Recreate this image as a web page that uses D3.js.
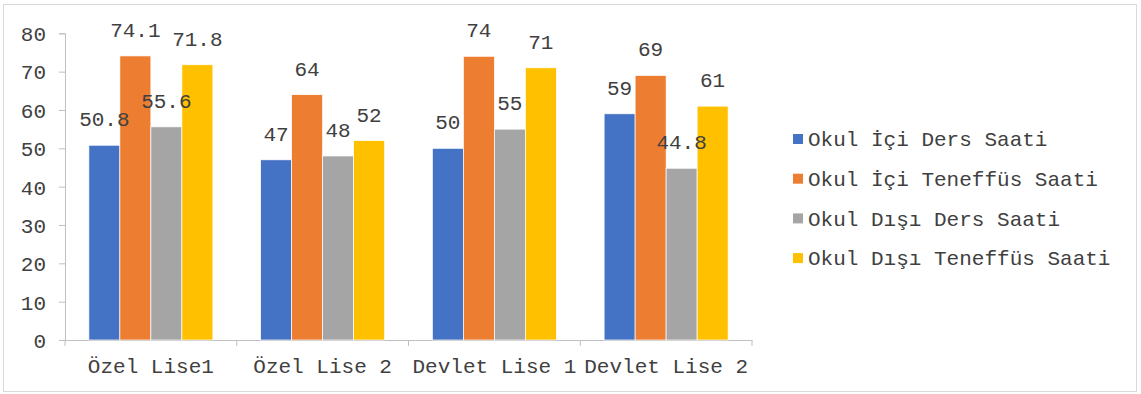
<!DOCTYPE html>
<html lang="tr">
<head>
<meta charset="utf-8">
<title>Okul saatleri</title>
<script src="https://cdn.jsdelivr.net/npm/d3@7"></script>
<style>
  body { margin: 0; background: #fff; }
  text { font-family: "Liberation Mono", "Courier New", monospace; fill: #404040; }
</style>
</head>
<body>
<script>
// data
var categories = ["Özel Lise1", "Özel Lise 2", "Devlet Lise 1", "Devlet Lise 2"];
var seriesNames = ["Okul İçi Ders Saati", "Okul İçi Teneffüs Saati", "Okul Dışı Ders Saati", "Okul Dışı Teneffüs Saati"];
var icDers = [50.8, 47, 50, 59];
var icTeneffus = [74.1, 64, 74, 69];
var disDers = [55.6, 48, 55, 44.8];
var disTeneffus = [71.8, 52, 71, 61];
var yTicks = [0, 10, 20, 30, 40, 50, 60, 70, 80];
var colors = ["#4472c4", "#ed7d31", "#a5a5a5", "#ffc000"];

var series = [icDers, icTeneffus, disDers, disTeneffus];

var w = 1141, h = 394;
var plotLeft = 65, plotRight = 752, plotTop = 33.3, plotBottom = 340;

var svg = d3.select("body").append("svg")
    .attr("width", w)
    .attr("height", h);

// outer border
svg.append("rect")
    .attr("x", 3.5).attr("y", 4.5)
    .attr("width", 1133).attr("height", 387)
    .attr("fill", "none")
    .attr("stroke", "#d9d9d9");

var x0 = d3.scaleBand().domain(categories).range([plotLeft, plotRight]).paddingInner(0).paddingOuter(0);
var x1 = d3.scaleBand().domain(d3.range(series.length))
    .range([0, x0.bandwidth()]).paddingOuter(0.77).paddingInner(0);
var y = d3.scaleLinear().domain([0, 80]).range([plotBottom, plotTop]);

// y axis
var yAxis = svg.append("g")
    .attr("transform", "translate(" + plotLeft + ",0)")
    .call(d3.axisLeft(y).tickValues(yTicks).tickSize(6).tickPadding(13));
yAxis.selectAll("text").style("font-size", "21px").attr("dy", "0.35em");

// x axis
var xAxis = svg.append("g")
    .attr("transform", "translate(0," + plotBottom + ")")
    .call(d3.axisBottom(x0).tickSize(0).tickPadding(20));
xAxis.selectAll("text").style("font-size", "21px").attr("dy", "0.6em");
// category boundary ticks
var bounds = categories.map(function(c) { return x0(c); }).concat([plotRight]);
xAxis.selectAll(".bound").data(bounds).enter().append("line")
    .attr("class", "bound")
    .attr("x1", function(d) { return d; }).attr("x2", function(d) { return d; })
    .attr("y1", 0).attr("y2", 6)
    .attr("stroke", "#bfbfbf");

svg.selectAll(".domain").attr("stroke", "#bfbfbf");
svg.selectAll(".tick line").attr("stroke", "#bfbfbf");

// bars
var groups = svg.selectAll("g.grp")
    .data(categories).enter().append("g")
    .attr("class", "grp")
    .attr("transform", function(d) { return "translate(" + x0(d) + ",0)"; });

groups.each(function(cat, ci) {
    var g = d3.select(this);
    var vals = series.map(function(s) { return s[ci]; });
    g.selectAll("rect").data(vals).enter().append("rect")
        .attr("x", function(d, i) { return x1(i); })
        .attr("y", function(d) { return y(d); })
        .attr("width", x1.bandwidth())
        .attr("height", function(d) { return plotBottom - y(d); })
        .attr("fill", function(d, i) { return colors[i]; })
        .attr("stroke", "#ffffff")
        .attr("stroke-width", 0.7);
    g.selectAll("text.val").data(vals).enter().append("text")
        .attr("class", "val")
        .attr("x", function(d, i) { return x1(i) + x1.bandwidth() / 2; })
        .attr("y", function(d) { return y(d) - 19; })
        .attr("text-anchor", "middle")
        .style("font-size", "21px")
        .text(function(d) { return d; });
});

// legend
var legend = svg.selectAll("g.leg")
    .data(seriesNames).enter().append("g")
    .attr("class", "leg")
    .attr("transform", function(d, i) { return "translate(793," + (139 + i * 39.7) + ")"; });
legend.append("rect")
    .attr("x", 0).attr("y", -5)
    .attr("width", 10).attr("height", 10)
    .attr("fill", function(d, i) { return colors[i]; });
legend.append("text")
    .attr("x", 15).attr("y", 0)
    .attr("dy", "0.35em")
    .style("font-size", "21px")
    .text(function(d) { return d; });
</script>
</body>
</html>
